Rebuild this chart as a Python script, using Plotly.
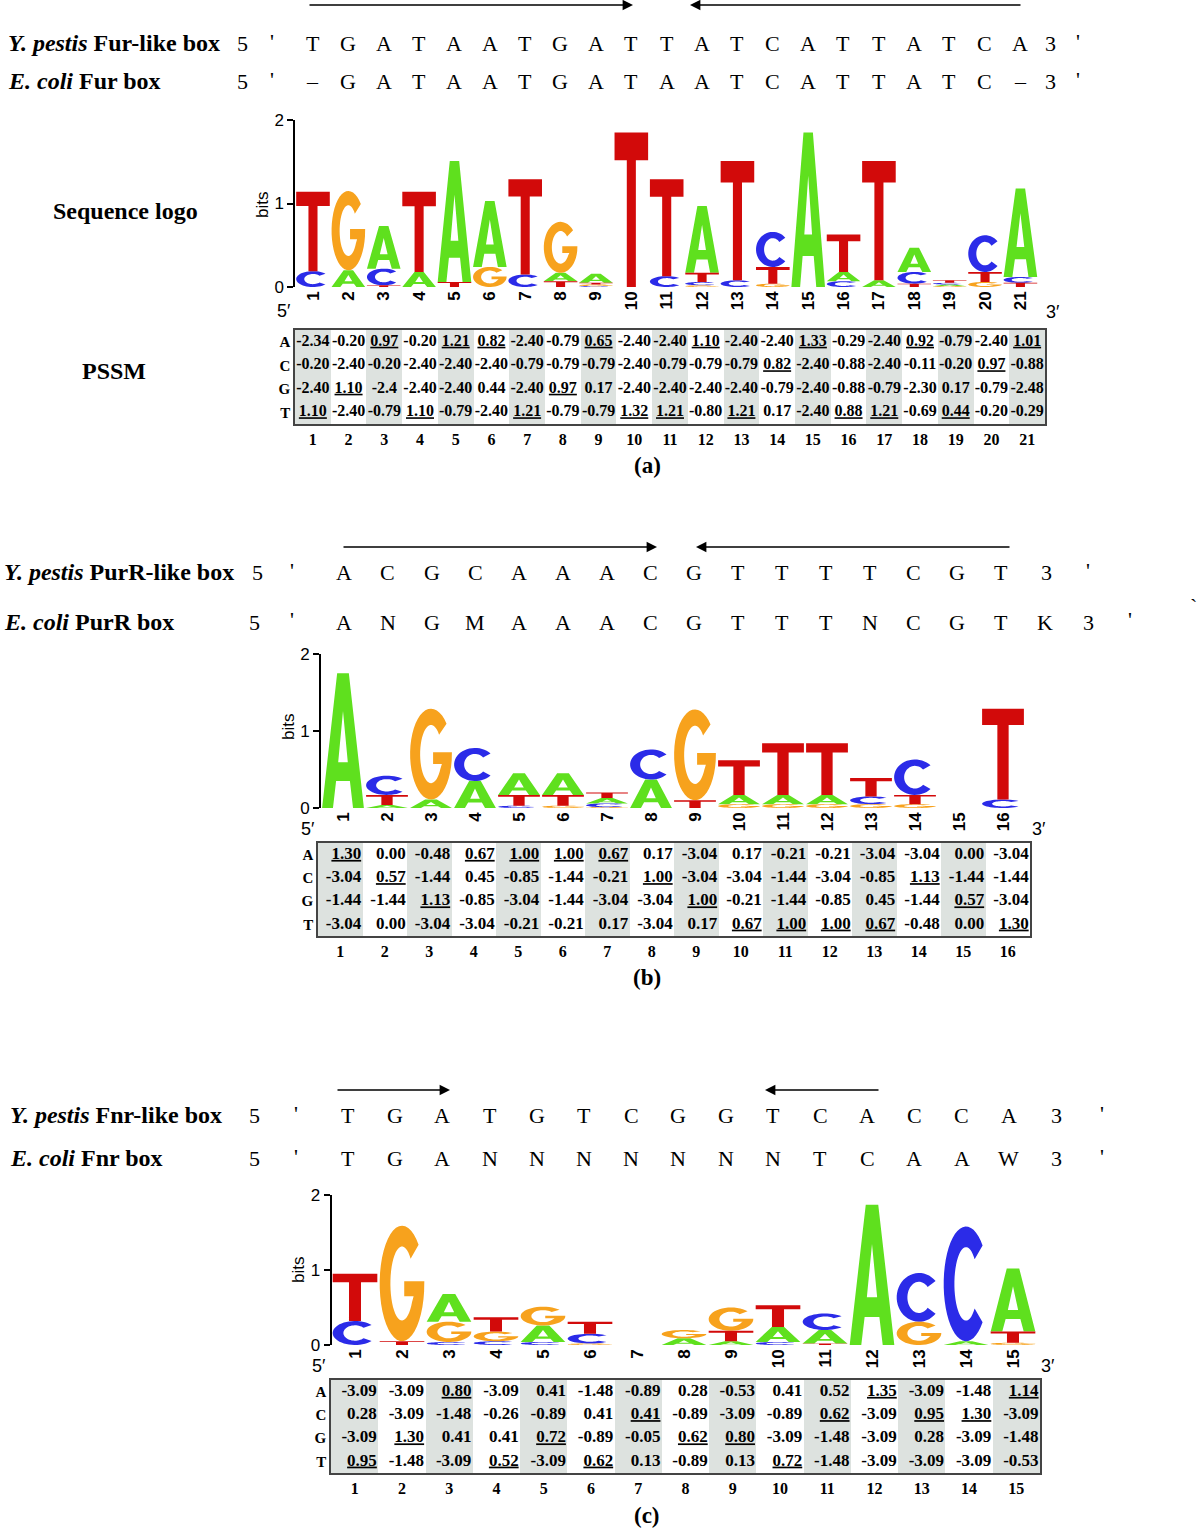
import numpy as np
import plotly.graph_objects as go

W, H = 1200, 1531
SERIF = "Liberation Serif"
SANS = "Liberation Sans"
BASES = ["A", "C", "G", "T"]
BASE_COLORS = {"A": "#5fe01e", "C": "#2b2be8", "G": "#f7a21d", "T": "#d20a0a"}

# ---------------- (a) Fur ----------------
fur_seq_yp = list("TGATAATGATTATCATTATCA")
fur_seq_ec = ["–"] + list("GATAATGATAATCATTATC") + ["–"]
fur_A = [0, 0.20, 0.51, 0.18, 1.45, 0.79, 0, 0.10, 0.11, 0, 0, 0.80, 0, 0, 1.85, 0.11, 0.08, 0.29, 0.02, 0, 1.06]
fur_C = [0.19, 0, 0.20, 0, 0, 0, 0.15, 0, 0.01, 0, 0.13, 0.04, 0.08, 0.42, 0, 0.07, 0, 0.14, 0.02, 0.44, 0.07]
fur_G = [0, 0.95, 0, 0, 0, 0.24, 0, 0.61, 0.02, 0, 0, 0.02, 0, 0.04, 0, 0, 0, 0, 0.01, 0.06, 0]
fur_T = [0.95, 0, 0.02, 0.96, 0.06, 0, 1.14, 0.07, 0.02, 1.85, 1.16, 0.11, 1.43, 0.20, 0, 0.45, 1.43, 0.04, 0.03, 0.12, 0.05]
fur_pssm_A = ["-2.34", "-0.20", "0.97", "-0.20", "1.21", "0.82", "-2.40", "-0.79", "0.65", "-2.40", "-2.40",
              "1.10", "-2.40", "-2.40", "1.33", "-0.29", "-2.40", "0.92", "-0.79", "-2.40", "1.01"]
fur_pssm_C = ["-0.20", "-2.40", "-0.20", "-2.40", "-2.40", "-2.40", "-0.79", "-0.79", "-0.79", "-2.40", "-0.79",
              "-0.79", "-0.79", "0.82", "-2.40", "-0.88", "-2.40", "-0.11", "-0.20", "0.97", "-0.88"]
fur_pssm_G = ["-2.40", "1.10", "-2.4", "-2.40", "-2.40", "0.44", "-2.40", "0.97", "0.17", "-2.40", "-2.40",
              "-2.40", "-2.40", "-0.79", "-2.40", "-0.88", "-0.79", "-2.30", "0.17", "-0.79", "-2.48"]
fur_pssm_T = ["1.10", "-2.40", "-0.79", "1.10", "-0.79", "-2.40", "1.21", "-0.79", "-0.79", "1.32", "1.21",
              "-0.80", "1.21", "0.17", "-2.40", "0.88", "1.21", "-0.69", "0.44", "-0.20", "-0.29"]

# ---------------- (b) PurR ----------------
pur_seq_yp = list("ACGCAAACGTTTTCGT")
pur_seq_ec = list("ANGMAAACGTTTNCGTK")
pur_A = [1.75, 0.04, 0.11, 0.35, 0.28, 0.28, 0.07, 0.37, 0, 0.12, 0.12, 0.12, 0, 0, 0, 0]
pur_C = [0, 0.25, 0, 0.43, 0.03, 0, 0.05, 0.39, 0, 0, 0, 0, 0.10, 0.46, 0, 0.11]
pur_G = [0, 0, 1.18, 0, 0, 0.03, 0.01, 0, 1.18, 0.05, 0.05, 0.05, 0.05, 0.05, 0, 0]
pur_T = [0, 0.13, 0, 0, 0.14, 0.14, 0.07, 0, 0.10, 0.45, 0.67, 0.67, 0.24, 0.12, 0, 1.18]
pur_pssm_A = ["1.30", "0.00", "-0.48", "0.67", "1.00", "1.00", "0.67", "0.17", "-3.04", "0.17", "-0.21",
              "-0.21", "-3.04", "-3.04", "0.00", "-3.04"]
pur_pssm_C = ["-3.04", "0.57", "-1.44", "0.45", "-0.85", "-1.44", "-0.21", "1.00", "-3.04", "-3.04", "-1.44",
              "-3.04", "-0.85", "1.13", "-1.44", "-1.44"]
pur_pssm_G = ["-1.44", "-1.44", "1.13", "-0.85", "-3.04", "-1.44", "-3.04", "-3.04", "1.00", "-0.21", "-1.44",
              "-0.85", "0.45", "-1.44", "0.57", "-3.04"]
pur_pssm_T = ["-3.04", "0.00", "-3.04", "-3.04", "-0.21", "-0.21", "0.17", "-3.04", "0.17", "0.67", "1.00",
              "1.00", "0.67", "-0.48", "0.00", "1.30"]

# ---------------- (c) Fnr ----------------
fnr_seq_yp = list("TGATGTCGGTCACCA")
fnr_seq_ec = list("TGANNNNNNNTCAAW")
fnr_A = [0, 0, 0.37, 0, 0.22, 0, 0, 0.09, 0.05, 0.20, 0.18, 1.87, 0, 0.05, 0.84]
fnr_C = [0.32, 0, 0.04, 0.05, 0.04, 0.13, 0, 0, 0, 0.04, 0.22, 0, 0.65, 1.53, 0]
fnr_G = [0, 1.54, 0.27, 0.13, 0.25, 0.02, 0, 0.11, 0.31, 0, 0, 0, 0.31, 0, 0.03]
fnr_T = [0.63, 0.05, 0, 0.19, 0, 0.16, 0, 0, 0.14, 0.29, 0.02, 0, 0, 0, 0.15]
fnr_pssm_A = ["-3.09", "-3.09", "0.80", "-3.09", "0.41", "-1.48", "-0.89", "0.28", "-0.53", "0.41", "0.52",
              "1.35", "-3.09", "-1.48", "1.14"]
fnr_pssm_C = ["0.28", "-3.09", "-1.48", "-0.26", "-0.89", "0.41", "0.41", "-0.89", "-3.09", "-0.89", "0.62",
              "-3.09", "0.95", "1.30", "-3.09"]
fnr_pssm_G = ["-3.09", "1.30", "0.41", "0.41", "0.72", "-0.89", "-0.05", "0.62", "0.80", "-3.09", "-1.48",
              "-3.09", "0.28", "-3.09", "-1.48"]
fnr_pssm_T = ["0.95", "-1.48", "-3.09", "0.52", "-3.09", "0.62", "0.13", "-0.89", "0.13", "0.72", "-1.48",
              "-3.09", "-3.09", "-3.09", "-0.53"]


# ---------------- glyph outlines (unit box) ----------------
def arc(cx, cy, rx, ry, a0, a1, n=40):
    t = np.radians(np.linspace(a0, a1, n))
    return list(zip(cx + rx * np.cos(t), cy + ry * np.sin(t)))


GLYPHS = {
    "T": [(0, 1), (1, 1), (1, 0.82), (0.635, 0.82), (0.635, 0), (0.365, 0), (0.365, 0.82), (0, 0.82)],
    "A": [(0.26, 0), (0, 0), (0.36, 1), (0.64, 1), (1, 0), (0.74, 0), (0.665, 0.2), (0.5, 0.2),
          (0.5, 0.34), (0.615, 0.34), (0.5, 0.72), (0.385, 0.34), (0.5, 0.34), (0.5, 0.2), (0.335, 0.2)],
    "C": arc(0.5, 0.5, 0.5, 0.5, 42, 318) + arc(0.5, 0.5, 0.26, 0.32, 318, 42),
    "G": arc(0.5, 0.5, 0.5, 0.5, 42, 352) + [(1.0, 0.52), (0.55, 0.52), (0.55, 0.39), (0.76, 0.39)]
         + arc(0.5, 0.5, 0.26, 0.32, 330, 42),
}


def px(x):
    return x / W


def py(y):
    return 1 - y / H


def note(text, x, y, size, family=SERIF, xanchor="center", angle=0):
    return dict(text=text, x=px(x), y=py(y), xref="paper", yref="paper", showarrow=False,
                xanchor=xanchor, yanchor="middle", textangle=angle,
                font=dict(family=family, size=size, color="black"))


panels = [
    dict(heights=dict(A=fur_A, C=fur_C, G=fur_G, T=fur_T),
         pssm=dict(A=fur_pssm_A, C=fur_pssm_C, G=fur_pssm_G, T=fur_pssm_T),
         logo_x=(295.3, 1038.1), logo_y=(120, 287), table_x=(295, 1045), table_y=(330, 424),
         val_size=16, align="center", bits=(262, 205), p5=(284, 311), p3=(1053, 312), label=("(a)", 465)),
    dict(heights=dict(A=pur_A, C=pur_C, G=pur_G, T=pur_T),
         pssm=dict(A=pur_pssm_A, C=pur_pssm_C, G=pur_pssm_G, T=pur_pssm_T),
         logo_x=(321, 1025), logo_y=(654, 808), table_x=(318, 1030), table_y=(843, 936),
         val_size=17, align="right", bits=(288, 727), p5=(308, 829), p3=(1039, 829), label=("(b)", 977)),
    dict(heights=dict(A=fnr_A, C=fnr_C, G=fnr_G, T=fnr_T),
         pssm=dict(A=fnr_pssm_A, C=fnr_pssm_C, G=fnr_pssm_G, T=fnr_pssm_T),
         logo_x=(331.5, 1036.5), logo_y=(1195, 1345), table_x=(331, 1040), table_y=(1380, 1473),
         val_size=17, align="right", bits=(298, 1270), p5=(319, 1366), p3=(1048, 1366), label=("(c)", 1515)),
]

fig = go.Figure()
layout = {}
annotations = []

for k, pan in enumerate(panels):
    li, ti = 2 * k + 1, 2 * k + 2
    lx, ly = ("x" if li == 1 else f"x{li}"), ("y" if li == 1 else f"y{li}")
    tx, ty = f"x{ti}", f"y{ti}"
    n = len(pan["heights"]["A"])
    pos = list(range(1, n + 1))

    # ---- sequence logo ----
    width = 0.95
    segs = {b: ([], []) for b in BASES}
    for i, p in enumerate(pos):
        stack = sorted(BASES, key=lambda b: pan["heights"][b][i])
        y0 = 0.0
        for b in stack:
            h = pan["heights"][b][i]
            if h <= 0:
                continue
            xs, ys = segs[b]
            for gx, gy in GLYPHS[b]:
                xs.append(p - width / 2 + gx * width)
                ys.append(y0 + gy * h)
            xs.append(None)
            ys.append(None)
            y0 += h
    for b in BASES:
        xs, ys = segs[b]
        fig.add_trace(go.Scatter(x=xs, y=ys, mode="none", fill="toself", fillcolor=BASE_COLORS[b],
                                 hoverinfo="skip", showlegend=False, xaxis=lx, yaxis=ly))

    layout["xaxis" if li == 1 else f"xaxis{li}"] = dict(
        domain=[px(pan["logo_x"][0]), px(pan["logo_x"][1])], range=[0.5, n + 0.5],
        tickvals=pos, ticktext=[str(p) for p in pos], tickangle=-90, ticks="",
        tickfont=dict(family=SANS, size=17, color="black", weight="bold"),
        showline=False, showgrid=False, zeroline=False, anchor=ly, fixedrange=True, automargin=False)
    layout["yaxis" if li == 1 else f"yaxis{li}"] = dict(
        domain=[py(pan["logo_y"][1]), py(pan["logo_y"][0])], range=[0, 2],
        tickvals=[0, 1, 2], ticks="outside", ticklen=6, tickwidth=2, tickcolor="black",
        showline=True, linewidth=2, linecolor="black",
        tickfont=dict(family=SANS, size=17, color="black"),
        showgrid=False, zeroline=False, anchor=lx, fixedrange=True, automargin=False)

    annotations.append(note("bits", pan["bits"][0], pan["bits"][1], 17, SANS, angle=-90))
    annotations.append(note("5′", pan["p5"][0], pan["p5"][1], 18, SANS))
    annotations.append(note("3′", pan["p3"][0], pan["p3"][1], 18, SANS))

    # ---- PSSM table ----
    z = [[c % 2 for c in pos] for _ in BASES]
    fig.add_trace(go.Heatmap(x=pos, y=[1, 2, 3, 4], z=z, zmin=0, zmax=1,
                             colorscale=[[0, "#ffffff"], [1, "#dde2df"]], showscale=False,
                             hoverinfo="skip", xaxis=tx, yaxis=ty))
    vals = {b: [float(v) for v in pan["pssm"][b]] for b in BASES}
    colmax = [max(vals[b][i] for b in BASES) for i in range(n)]
    for r, b in enumerate(BASES):
        texts = []
        for i, s in enumerate(pan["pssm"][b]):
            if vals[b][i] == colmax[i]:
                texts.append(f"<b><u>{s}</u></b>")
            else:
                texts.append(f"<b>{s}</b>")
        if pan["align"] == "right":
            xs = [p + 0.47 for p in pos]
            tp = "middle left"
        else:
            xs = pos
            tp = "middle center"
        fig.add_trace(go.Scatter(x=xs, y=[r + 1] * n, mode="text", text=texts, textposition=tp,
                                 textfont=dict(family=SERIF, size=pan["val_size"], color="black"),
                                 hoverinfo="skip", showlegend=False, xaxis=tx, yaxis=ty))

    layout[f"xaxis{ti}"] = dict(
        domain=[px(pan["table_x"][0]), px(pan["table_x"][1])], range=[0.5, n + 0.5],
        tickvals=pos, ticktext=[f"<b>{p}</b>" for p in pos], ticks="",
        tickfont=dict(family=SERIF, size=16, color="black"),
        showline=True, mirror=True, linewidth=1.5, linecolor="#444444",
        showgrid=False, zeroline=False, anchor=ty, fixedrange=True, automargin=False)
    layout[f"yaxis{ti}"] = dict(
        domain=[py(pan["table_y"][1]), py(pan["table_y"][0])], range=[4.5, 0.5],
        tickvals=[1, 2, 3, 4], ticktext=[f"<b>{b}</b>" for b in BASES], ticks="",
        tickfont=dict(family=SERIF, size=15, color="black"),
        showline=True, mirror=True, linewidth=1.5, linecolor="#444444",
        showgrid=False, zeroline=False, anchor=tx, fixedrange=True, automargin=False)

    annotations.append(note(f"<b>{pan['label'][0]}</b>", 647, pan["label"][1], 23))

# ---------------- binding-site sequence rows ----------------
seq_rows = [
    dict(label="<b><i>Y. pestis</i> Fur-like box</b>", lx=6, y=43, seq=fur_seq_yp, x0=313, dx=35.35,
         five=242, q5=272, three=1050, q3=1078),
    dict(label="<b><i>E. coli</i> Fur box</b>", lx=6, y=81, seq=fur_seq_ec, x0=313, dx=35.35,
         five=242, q5=272, three=1050, q3=1078),
    dict(label="<b><i>Y. pestis</i> PurR-like box</b>", lx=2, y=572, seq=pur_seq_yp, x0=344, dx=43.8,
         five=257, q5=292, three=1046, q3=1088),
    dict(label="<b><i>E. coli</i> PurR box</b>", lx=2, y=622, seq=pur_seq_ec, x0=344, dx=43.8,
         five=254, q5=292, three=1088, q3=1130),
    dict(label="<b><i>Y. pestis</i> Fnr-like box</b>", lx=8, y=1115, seq=fnr_seq_yp, x0=348, dx=47.2,
         five=254, q5=296, three=1056, q3=1102),
    dict(label="<b><i>E. coli</i> Fnr box</b>", lx=8, y=1158, seq=fnr_seq_ec, x0=348, dx=47.2,
         five=254, q5=296, three=1056, q3=1102),
]
for row in seq_rows:
    annotations.append(note(row["label"], row["lx"], row["y"], 24, xanchor="left"))
    annotations.append(note("5", row["five"], row["y"], 22))
    annotations.append(note("'", row["q5"], row["y"] - 2, 22))
    for i, ch in enumerate(row["seq"]):
        annotations.append(note(ch, row["x0"] + i * row["dx"], row["y"], 22))
    annotations.append(note("3", row["three"], row["y"], 22))
    annotations.append(note("'", row["q3"], row["y"] - 2, 22))
annotations.append(note("`", 1193, 606, 22))

# inverted-repeat arrows (head, tail) in pixels
arrows = [((633, 5), (308, 5)), ((690, 5), (1022, 5)),
          ((657, 547), (342, 547)), ((696, 547), (1011, 547)),
          ((450, 1090), (336, 1090)), ((765, 1090), (880, 1090))]
for (hx, hy), (tx_, ty_) in arrows:
    annotations.append(dict(text="", x=px(hx), y=py(hy), xref="paper", yref="paper", showarrow=True,
                            ax=tx_ - hx, ay=ty_ - hy, arrowhead=2, arrowsize=1.3, arrowwidth=1.6,
                            arrowcolor="black", standoff=0))

annotations.append(note("<b>Sequence logo</b>", 125, 211, 24))
annotations.append(note("<b>PSSM</b>", 114, 371, 24))

fig.update_layout(**layout)
fig.update_layout(width=W, height=H, margin=dict(l=0, r=0, t=0, b=0, autoexpand=False),
                  paper_bgcolor="white", plot_bgcolor="white", showlegend=False, hovermode=False,
                  annotations=annotations)
fig.write_html("out.html", config={"displayModeBar": False},
               post_script="document.body.style.margin='0px';document.body.style.padding='0px';")
